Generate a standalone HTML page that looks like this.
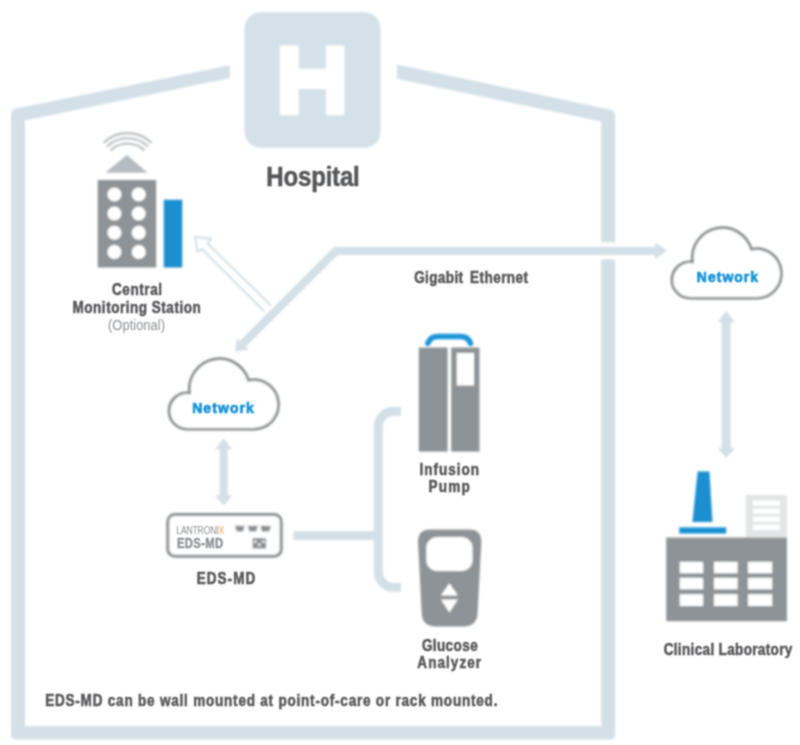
<!DOCTYPE html>
<html><head><meta charset="utf-8">
<style>
html,body{margin:0;padding:0;background:#fff;width:800px;height:745px;overflow:hidden}
svg{display:block}
text{font-family:"Liberation Sans",sans-serif;font-weight:bold}
.g{fill:#57585a;stroke:#57585a;stroke-width:.55}
.n{fill:#1a94d6;stroke:#1a94d6;stroke-width:.75}
</style></head>
<body>
<div id="w">
<svg width="800" height="745" viewBox="0 0 800 745">
<defs>
<filter id="blS" x="0" y="0" width="800" height="745" filterUnits="userSpaceOnUse"><feGaussianBlur stdDeviation="1"/></filter>
<filter id="blT" x="0" y="0" width="800" height="745" filterUnits="userSpaceOnUse"><feConvolveMatrix order="3" kernelMatrix="1 2 1 2 4 2 1 2 1" divisor="16" edgeMode="none"/></filter>
  <path id="cloud" d="M19.5 71.55 A18.25 18.25 0 1 1 21.9 35.2 A30.25 30.25 0 0 1 80.87 22.6 A24.75 24.75 0 1 1 86.1 71.55 Z" fill="#fff" stroke="#85898c" stroke-width="2.7"/>
</defs>
<rect width="800" height="745" fill="#fff"/>
<g filter="url(#blS)">

<!-- hospital wall -->
<path fill="#d3e0e7" d="M229.8 65.3 L15.9 108.6 Q11 109.6 11 114.6 L11 734.4 Q11 739.4 16 739.4 L610 739.4 Q615 739.4 615 734.4 L615 115.7 Q615 110.7 610.1 109.66 L396.9 64.4 L396.9 78.75 L601.25 121.6 L601.25 726.25 L25 726.25 L25 120.6 L229.8 78 Z"/>
<rect x="598" y="242.4" width="20" height="16.9" fill="#fff"/>

<!-- H box -->
<rect x="244.5" y="12.2" width="136" height="135.5" rx="16" fill="#d5e1e9"/>
<path d="M279.8 45.5H298.7V68.7H326V45.5H344.5V115.3H326V89H298.7V115.3H279.8Z" fill="#fff"/>

<!-- central monitoring station -->
<g fill="none" stroke="#b9bcbf" stroke-width="2.1" stroke-linecap="round">
  <path d="M104.06 142.22 A34.7 34.7 0 0 1 150.94 142.22"/>
  <path d="M107.57 146.05 A29.5 29.5 0 0 1 147.43 146.05"/>
  <path d="M111.08 149.88 A24.3 24.3 0 0 1 143.92 149.88"/>
</g>
<polygon points="126.9,155 105.25,172.75 147.5,172.75" fill="#b5bcc2"/>
<rect x="97.75" y="180" width="58.4" height="87.5" fill="#8d9396"/>
<g fill="#fff">
  <circle cx="114.4" cy="194.4" r="7"/><circle cx="138.75" cy="194.4" r="7"/>
  <circle cx="114.4" cy="213.6" r="7"/><circle cx="138.75" cy="213.6" r="7"/>
  <circle cx="114.4" cy="232.8" r="7"/><circle cx="138.75" cy="232.8" r="7"/>
  <circle cx="114.4" cy="252" r="7"/><circle cx="138.75" cy="252" r="7"/>
</g>
<rect x="163.75" y="199.75" width="18.5" height="67.75" fill="#1e8fd0"/>

<!-- hollow arrow -->
<polyline points="271,305.5 207.5,243.5 211.25,238.75 195,236.9 197.5,251.9 202,249 264.5,311.5" fill="#fff" stroke="#cfdbe3" stroke-width="1.8" stroke-linejoin="miter"/>

<!-- gigabit arrow -->
<path d="M656 250.9 H336 L242.8 343.8" fill="none" stroke="#d3e0e7" stroke-width="8.3" stroke-linejoin="miter"/>
<polygon points="655,242.4 667,250.6 655,259.3" fill="#d3e0e7"/>
<polygon points="235,351.6 236.9,337.9 248.7,349.7" fill="#d3e0e7"/>

<!-- clouds -->
<use href="#cloud" x="670.6" y="226.7"/>
<use href="#cloud" x="167.7" y="357.7"/>

<!-- double arrows -->
<g fill="#d3e0e7">
  <rect x="219.7" y="448" width="8" height="49"/>
  <polygon points="223.7,438.5 215,449.3 232.4,449.3"/>
  <polygon points="223.7,505.5 215,495.2 232.4,495.2"/>
  <rect x="721.6" y="321" width="9" height="128"/>
  <polygon points="726.1,311 717.7,321.9 735.1,321.9"/>
  <polygon points="726.1,458.1 717.7,448.3 735.1,448.3"/>
</g>

<!-- EDS-MD device -->
<rect x="167.8" y="514.5" width="113.4" height="41.7" rx="7" fill="#fff" stroke="#8b8f92" stroke-width="3"/>
<g fill="#8b8f92">
  <polygon points="235,525.75 244.7,525.75 243.2,531.4 236.5,531.4"/>
  <polygon points="247.7,525.75 257.8,525.75 256.3,531.4 249.2,531.4"/>
  <polygon points="260.4,525.75 270.9,525.75 269.4,531.4 261.9,531.4"/>
  <rect x="252.6" y="538" width="13.5" height="10.5"/>
</g>
<g fill="#fff"><circle cx="255.3" cy="541.6" r="1.3"/><circle cx="263.4" cy="541.6" r="1.3"/><circle cx="259.3" cy="544.6" r="1.3"/></g>

<!-- bracket -->
<path d="M401.1 411.3 H393.7 A15.5 15.5 0 0 0 378.2 426.8 V571.8 A15.5 15.5 0 0 0 393.7 587.3 H401.1" fill="none" stroke="#d3e0e7" stroke-width="9"/>
<rect x="293.5" y="531.1" width="85" height="9" fill="#d3e0e7"/>

<!-- infusion pump -->
<path d="M427.8 343.3 Q430.5 336.6 438 336.6 H460.5 Q468 336.6 470.5 343.3" fill="none" stroke="#1a95d6" stroke-width="5.5" stroke-linecap="round"/>
<rect x="418.8" y="347.5" width="28.8" height="104.1" fill="#8d9396"/>
<rect x="451.2" y="347.5" width="28.3" height="104.1" fill="#8d9396"/>
<rect x="456.8" y="353" width="17.2" height="32.5" fill="#fff"/>

<!-- glucose analyzer -->
<path d="M430 529.6 H469.3 Q481.3 529.6 481.3 542 L477.6 612.5 Q477.3 626.4 463.3 626.4 H436 Q422 626.4 421.7 612.5 L418 542 Q418 529.6 430 529.6 Z" fill="#8d9396"/>
<rect x="426.3" y="537" width="46.3" height="34" rx="11" fill="#fff"/>
<polygon points="449.4,583.3 440.9,595.6 457.9,595.6" fill="#fff"/>
<polygon points="449.4,612.6 440.9,599.5 457.9,599.5" fill="#fff"/>

<!-- clinical laboratory -->
<polygon points="697.6,471.4 709.4,471.4 712.5,522.1 692.4,522.1" fill="#1a8fd0"/>
<rect x="679.25" y="527.4" width="46.95" height="6.1" fill="#1a8fd0"/>
<rect x="745.75" y="495" width="41.15" height="42.5" fill="#e2e4e5"/>
<g fill="#fff">
  <rect x="752.75" y="500.6" width="27.15" height="5.3"/>
  <rect x="752.75" y="508.6" width="27.15" height="5.3"/>
  <rect x="752.75" y="516.6" width="27.15" height="5.3"/>
  <rect x="752.75" y="524.6" width="27.15" height="5.3"/>
</g>
<rect x="666.2" y="537.5" width="120.7" height="83.7" fill="#8d9396"/>
<g fill="#fff">
  <rect x="679.7" y="561.8" width="23.5" height="11.5"/>
  <rect x="714" y="561.8" width="23.6" height="11.5"/>
  <rect x="748" y="561.8" width="24.2" height="11.5"/>
  <rect x="679.7" y="577.8" width="23.5" height="11.5"/>
  <rect x="714" y="577.8" width="23.6" height="11.5"/>
  <rect x="748" y="577.8" width="24.2" height="11.5"/>
  <rect x="679.7" y="594.2" width="23.5" height="11.8"/>
  <rect x="714" y="594.2" width="23.6" height="11.8"/>
  <rect x="748" y="594.2" width="24.2" height="11.8"/>
</g>

</g>
<g filter="url(#blT)">
<text transform="translate(266.28 186.0) scale(0.86 1)" font-size="28.0" class="g" textLength="108.76" lengthAdjust="spacing">Hospital</text>
<text transform="translate(111.95 295.3) scale(0.86 1)" font-size="15.75" class="g" textLength="58.20" lengthAdjust="spacing">Central</text>
<text transform="translate(72.53 312.5) scale(0.86 1)" font-size="15.75" class="g" textLength="149.05" lengthAdjust="spacing">Monitoring Station</text>
<text transform="translate(108.05 329.5) scale(0.86 1)" font-size="15" style="font-weight:normal" fill="#8f9295" textLength="66.21" lengthAdjust="spacing">(Optional)</text>
<text transform="translate(414.17 283.2) scale(0.86 1)" font-size="15.75" class="g" textLength="56.87" lengthAdjust="spacing">Gigabit</text>
<text transform="translate(470.03 283.4) scale(0.86 1)" font-size="15.75" class="g" textLength="67.50" lengthAdjust="spacing">Ethernet</text>
<text transform="translate(696.84 282.3) scale(0.93 1)" font-size="15" class="n" textLength="65.82" lengthAdjust="spacing">Network</text>
<text transform="translate(192.17 413.3) scale(0.93 1)" font-size="15" class="n" textLength="66.30" lengthAdjust="spacing">Network</text>
<text transform="translate(176.28 533.6) scale(0.86 1)" font-size="10" style="font-weight:normal" fill="#8b8f92" textLength="55.69" lengthAdjust="spacing">LANTRONI<tspan fill="#f39a3b">X</tspan></text>
<text transform="translate(176.94 547.7) scale(0.8 1)" font-size="14" fill="#8b8f92" stroke="#8b8f92" stroke-width="0.4" textLength="57.72" lengthAdjust="spacing">EDS-MD</text>
<text transform="translate(196.79 583.6) scale(0.86 1)" font-size="15.75" class="g" textLength="67.93" lengthAdjust="spacing">EDS-MD</text>
<text transform="translate(419.55 475.2) scale(0.86 1)" font-size="15.75" class="g" textLength="69.28" lengthAdjust="spacing">Infusion</text>
<text transform="translate(428.55 492.4) scale(0.86 1)" font-size="15.75" class="g" textLength="48.02" lengthAdjust="spacing">Pump</text>
<text transform="translate(421.88 651.0) scale(0.86 1)" font-size="15.75" class="g" textLength="64.89" lengthAdjust="spacing">Glucose</text>
<text transform="translate(417.32 668.0) scale(0.86 1)" font-size="15.75" class="g" textLength="74.11" lengthAdjust="spacing">Analyzer</text>
<text transform="translate(663.65 654.6) scale(0.86 1)" font-size="15.75" class="g" textLength="149.59" lengthAdjust="spacing">Clinical Laboratory</text>
<text transform="translate(45.14 706.3) scale(0.86 1)" font-size="15.75" class="g" textLength="525.89" lengthAdjust="spacing">EDS-MD can be wall mounted at point-of-care or rack mounted.</text>
</g>
</svg>
</div>
</body></html>
